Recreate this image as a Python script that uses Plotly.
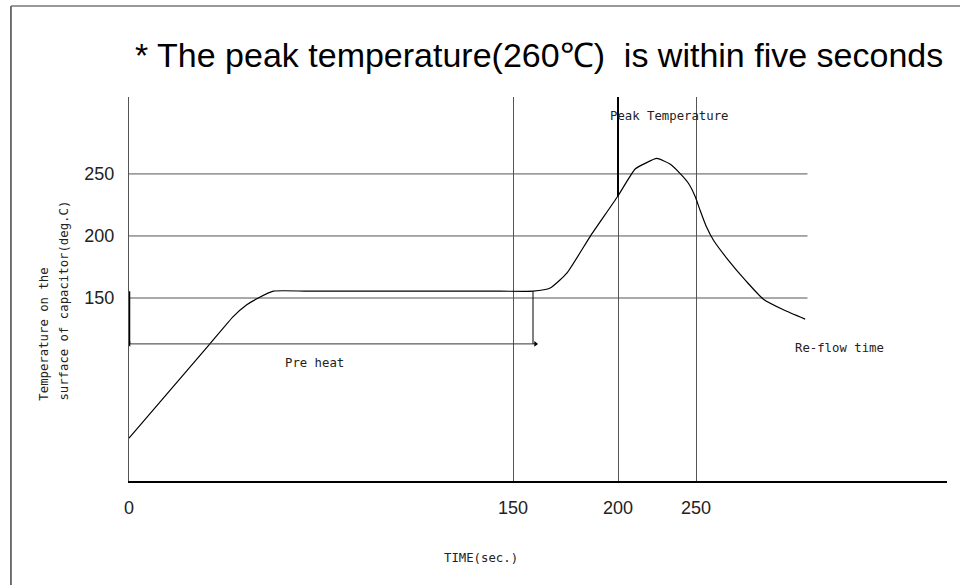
import plotly.graph_objects as go

# reflow profile, x is the drawing's (non linear) time position
time_pos = [0, 31.6, 40.7, 46.0, 50.5, 56.4, 70, 145, 157.8, 164.5, 171.0, 180.1, 190.9,
            197.7, 201.6, 206.1, 211.3, 215.2, 218.5, 221.1, 223.0, 225.4, 228.3, 233.5,
            241.3, 247.8, 255.6, 264.1]
temp = [37, 113, 135, 144.5, 150, 155.5, 155.5, 155.5, 155.5, 158, 170, 199.5, 232,
        254, 258.5, 262.5, 258, 250.5, 242.5, 232, 221, 208, 196.5, 182,
        163, 149, 140.5, 133]

# axis ticks (the time axis of the original is not to scale)
x_tick_pos = [0, 150, 191, 221.5]
x_tick_text = ["0", "150", "200", "250"]
y_ticks = [150, 200, 250]
grid_end = 265

# pre heat bracket and peak marker
preheat_start, preheat_end = 0, 157.8
preheat_top, preheat_arrow = 155.5, 113
peak_x, peak_top, peak_on_curve = 191, 312, 232

title = "* The peak temperature(260\u2103)  is within five seconds"
mono = "DejaVu Sans Mono"

fig = go.Figure()

# horizontal reference lines
gx, gy = [], []
for v in y_ticks:
    gx += [0, grid_end, None]
    gy += [v, v, None]
fig.add_trace(go.Scatter(x=gx, y=gy, mode="lines", line=dict(color="#555555", width=1),
                         hoverinfo="skip", showlegend=False))

# temperature curve
fig.add_trace(go.Scatter(x=time_pos, y=temp, mode="lines",
                         line=dict(color="black", width=1.2, shape="spline", smoothing=0.5),
                         showlegend=False, name="Temperature"))

# pre heat arrow
fig.add_trace(go.Scatter(x=[preheat_start, preheat_end + 1], y=[preheat_arrow, preheat_arrow],
                         mode="lines", line=dict(color="#333333", width=1), showlegend=False))
fig.add_trace(go.Scatter(x=[preheat_start, preheat_end + 1], y=[preheat_arrow, preheat_arrow],
                         mode="markers", marker=dict(symbol=["triangle-left", "triangle-right"],
                                                     size=5, color="black"),
                         showlegend=False))
fig.add_trace(go.Scatter(x=[preheat_end, preheat_end], y=[preheat_top, preheat_arrow],
                         mode="lines", line=dict(color="black", width=1), showlegend=False))
fig.add_trace(go.Scatter(x=[preheat_start, preheat_start], y=[preheat_top, preheat_arrow],
                         mode="lines", line=dict(color="black", width=2.5), showlegend=False))

# peak temperature marker
fig.add_trace(go.Scatter(x=[peak_x, peak_x], y=[peak_top, peak_on_curve], mode="lines",
                         line=dict(color="black", width=2), showlegend=False))

fig.add_annotation(x=187.1, y=296.7, text="Peak Temperature", showarrow=False,
                   xanchor="left", font=dict(family=mono, size=12.3, color="#222"))
fig.add_annotation(x=60.2, y=97.6, text="Pre heat", showarrow=False,
                   xanchor="left", font=dict(family=mono, size=12.3, color="#222"))
fig.add_annotation(x=259.4, y=109.7, text="Re-flow time", showarrow=False,
                   xanchor="left", font=dict(family=mono, size=12.3, color="#222"))
fig.add_annotation(xref="paper", yref="paper", x=0.43, y=-0.224, text="TIME(sec.)",
                   showarrow=False, font=dict(family=mono, size=12.3, color="#222"))
fig.add_annotation(xref="paper", yref="paper", x=-0.105, y=0.203, text="Temperature on the",
                   textangle=-90, showarrow=False, xanchor="center", yanchor="bottom",
                   font=dict(family=mono, size=12.3, color="#222"))
fig.add_annotation(xref="paper", yref="paper", x=-0.08, y=0.203,
                   text="surface of capacitor(deg.C)", textangle=-90, showarrow=False,
                   xanchor="center", yanchor="bottom",
                   font=dict(family=mono, size=12.3, color="#222"))
fig.add_annotation(xref="paper", yref="paper", x=0.005, y=1.11, text=title,
                   showarrow=False, xanchor="left", yanchor="middle",
                   font=dict(family="Liberation Sans, Arial", size=34, color="black"))

# frame of the original figure
fig.add_shape(type="line", xref="paper", yref="paper", x0=-0.1443, x1=-0.1443, y0=1.237, y1=-0.3,
              line=dict(color="#444", width=1.5))
fig.add_shape(type="line", xref="paper", yref="paper", x0=-0.1443, x1=1.05, y0=1.237, y1=1.237,
              line=dict(color="#777", width=1.5))

fig.update_xaxes(range=[0, 319.5], tickvals=x_tick_pos, ticktext=x_tick_text,
                 showgrid=True, gridcolor="#555555", gridwidth=1, zeroline=False,
                 showline=True, linecolor="black", linewidth=2,
                 ticks="outside", ticklen=9, tickcolor="rgba(0,0,0,0)",
                 tickfont=dict(family="Liberation Sans", size=18, color="#222"))
fig.update_yaxes(range=[2.5, 312], tickvals=y_ticks, showgrid=False, zeroline=False,
                 showline=True, linecolor="#555555", linewidth=1,
                 ticks="outside", ticklen=10, tickcolor="rgba(0,0,0,0)",
                 tickfont=dict(family="Liberation Sans", size=18, color="#222"))

fig.update_layout(width=960, height=585, margin=dict(l=129, r=13, t=97, b=104),
                  plot_bgcolor="white", paper_bgcolor="white", showlegend=False)

fig.write_html("out.html", config={"displayModeBar": False},
               post_script="document.body.style.margin='0';")
